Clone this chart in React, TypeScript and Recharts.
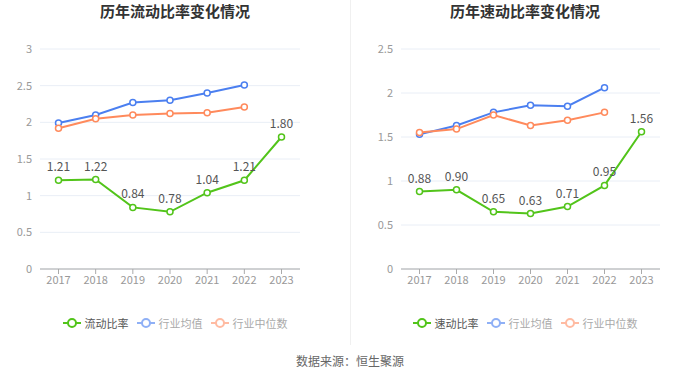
import { LineChart, Line, XAxis, YAxis, CartesianGrid, LabelList } from "recharts"

const years = ["2017", "2018", "2019", "2020", "2021", "2022", "2023"]

const currentRatio = [1.21, 1.22, 0.84, 0.78, 1.04, 1.21, 1.8]
const currentIndustryAvg = [1.99, 2.1, 2.27, 2.3, 2.4, 2.51, null]
const currentIndustryMedian = [1.92, 2.05, 2.1, 2.12, 2.13, 2.21, null]

const quickRatio = [0.88, 0.9, 0.65, 0.63, 0.71, 0.95, 1.56]
const quickIndustryAvg = [1.53, 1.63, 1.78, 1.86, 1.85, 2.06, null]
const quickIndustryMedian = [1.55, 1.59, 1.75, 1.63, 1.69, 1.78, null]

const leftTicks = [0, 0.5, 1, 1.5, 2, 2.5, 3]
const rightTicks = [0, 0.5, 1, 1.5, 2, 2.5]

const GREEN = "#52c41a"
const BLUE = "#4b7ff0"
const ORANGE = "#ff8a5c"
const FONT = "'Noto Sans CJK SC', 'Noto Sans', sans-serif"

const build = (main: number[], avg: (number | null)[], med: (number | null)[]) =>
  years.map((year, i) => ({ year, main: main[i], avg: avg[i], med: med[i] }))

const leftData = build(currentRatio, currentIndustryAvg, currentIndustryMedian)
const rightData = build(quickRatio, quickIndustryAvg, quickIndustryMedian)

const dot = (color: string) => ({ r: 3, fill: "#fff", stroke: color, strokeWidth: 1.5 })

function RatioChart({ data, ticks, max, left, right }: { data: any[]; ticks: number[]; max: number; left: number; right: number }) {
  return (
    <LineChart width={350} height={300} data={data} margin={{ top: 49, right, bottom: 1, left }}>
      <CartesianGrid vertical={false} stroke="#e9eef6" />
      <XAxis
        dataKey="year"
        stroke="#aaa"
        tick={{ fill: "#999", fontSize: 11, fontFamily: FONT }}
        tickSize={5}
        height={30}
        interval={0}
        padding={{ left: 18.5, right: 18.5 }}
      />
      <YAxis
        domain={[0, max]}
        ticks={ticks}
        width={30}
        axisLine={false}
        tickLine={false}
        tick={{ fill: "#999", fontSize: 11, fontFamily: FONT }}
        tickFormatter={(v) => String(v)}
      />
      <Line dataKey="avg" stroke={BLUE} strokeWidth={2} dot={dot(BLUE)} isAnimationActive={false} />
      <Line dataKey="med" stroke={ORANGE} strokeWidth={2} dot={dot(ORANGE)} isAnimationActive={false} />
      <Line dataKey="main" stroke={GREEN} strokeWidth={2} dot={dot(GREEN)} isAnimationActive={false}>
        <LabelList
          dataKey="main"
          position="top"
          offset={9}
          fill="#555"
          fontSize={12}
          fontFamily={FONT}
          formatter={(v: any) => Number(v).toFixed(2)}
        />
      </Line>
    </LineChart>
  )
}

function LegendIcon({ color }: { color: string }) {
  return (
    <svg width={18} height={10} style={{ marginRight: 4 }}>
      <line x1={0} y1={5} x2={18} y2={5} stroke={color} strokeWidth={2} />
      <circle cx={9} cy={5} r={4} fill="#fff" stroke={color} strokeWidth={2} />
    </svg>
  )
}

function ChartLegend({ name }: { name: string }) {
  const items = [
    { label: name, color: GREEN, text: "#555" },
    { label: "行业均值", color: "#8fb0f6", text: "#aaa" },
    { label: "行业中位数", color: "#ffbba2", text: "#aaa" },
  ]
  return (
    <div style={{ display: "flex", justifyContent: "center", gap: 8, fontSize: 11, fontFamily: FONT }}>
      {items.map((it) => (
        <div key={it.label} style={{ display: "flex", alignItems: "center", color: it.text }}>
          <LegendIcon color={it.color} />
          {it.label}
        </div>
      ))}
    </div>
  )
}

export default function App() {
  const titleStyle = {
    position: "absolute" as const,
    top: 0,
    width: 350,
    textAlign: "center" as const,
    fontSize: 15,
    fontWeight: 700,
    color: "#333",
    fontFamily: FONT,
  }
  return (
    <div style={{ position: "absolute", left: 0, top: 0, width: 700, height: 378, background: "#fff", fontFamily: FONT }}>
      <div style={{ ...titleStyle, left: 0 }}>历年流动比率变化情况</div>
      <div style={{ ...titleStyle, left: 350 }}>历年速动比率变化情况</div>
      <div style={{ position: "absolute", left: 0, top: 0 }}>
        <RatioChart data={leftData} ticks={leftTicks} max={3} left={10} right={50} />
      </div>
      <div style={{ position: "absolute", left: 350, top: 0 }}>
        <RatioChart data={rightData} ticks={rightTicks} max={2.5} left={21} right={40} />
      </div>
      <div style={{ position: "absolute", left: 350, top: 0, width: 1, height: 345, background: "#f0f0f0" }} />
      <div style={{ position: "absolute", left: 0, top: 315, width: 350 }}>
        <ChartLegend name="流动比率" />
      </div>
      <div style={{ position: "absolute", left: 350, top: 315, width: 350 }}>
        <ChartLegend name="速动比率" />
      </div>
      <div style={{ position: "absolute", left: 0, top: 352, width: 700, textAlign: "center", fontSize: 12, color: "#666" }}>
        数据来源：恒生聚源
      </div>
    </div>
  )
}
